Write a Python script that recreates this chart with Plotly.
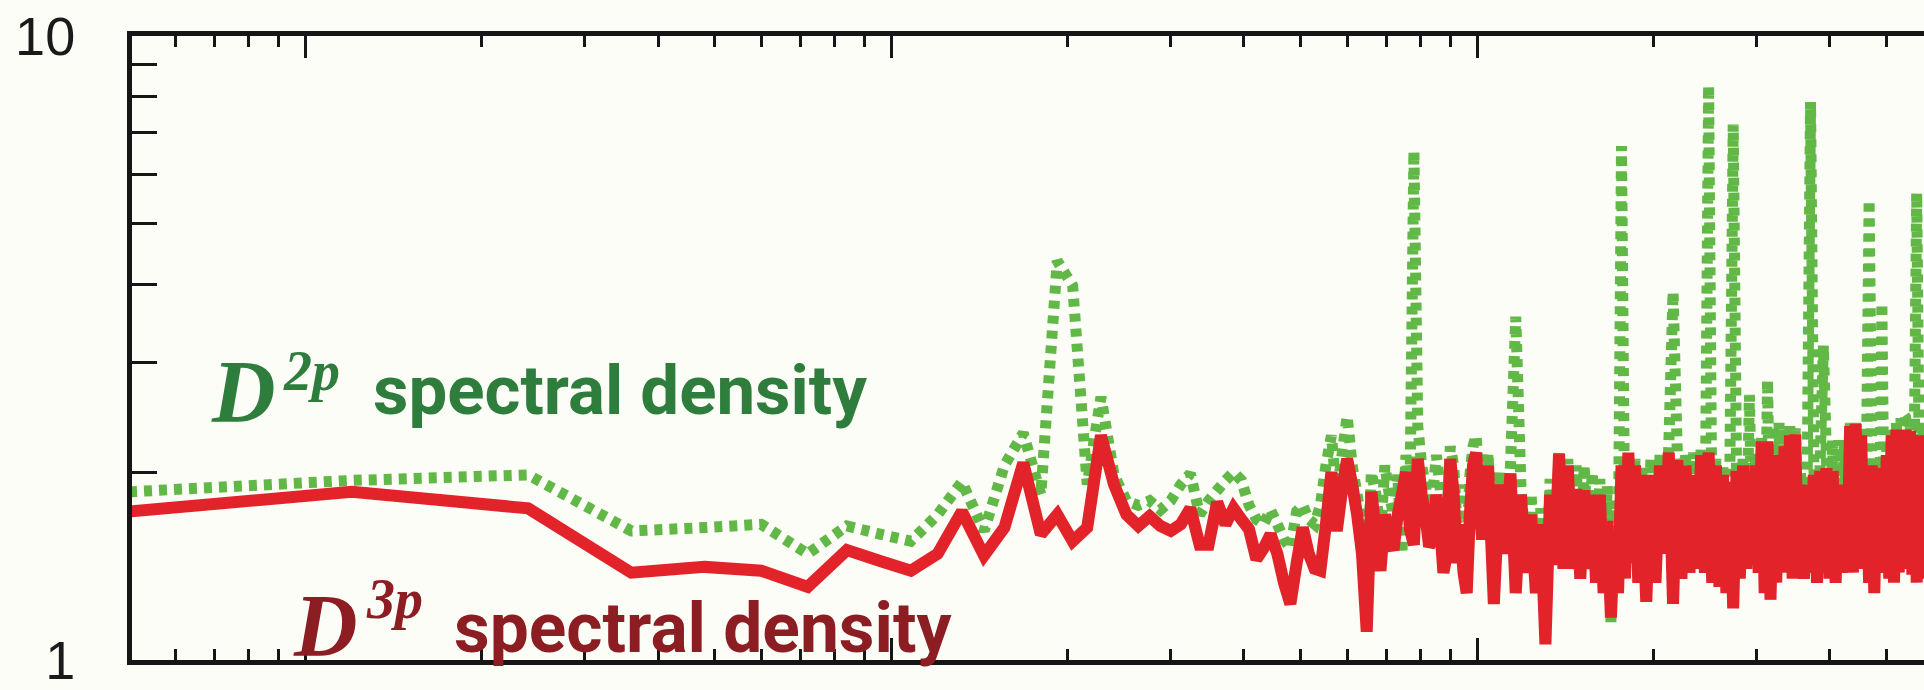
import plotly.graph_objects as go

# ---------------- data ----------------
# frequencies of the spectral samples
freq_low = [5, 12, 24, 36, 48, 60, 72, 84, 96, 108, 120, 132, 144, 156, 168, 180,
            192, 204, 216, 228]
freq_mid = [240, 252, 264, 276, 288, 300, 312, 324, 336, 348, 360, 372, 384, 396,
            408, 420, 432, 444, 456, 468, 480, 492, 504, 516, 528, 540, 552, 564,
            576, 588, 600, 612, 624, 636, 648, 660, 672, 684, 696, 708, 720, 732,
            744, 756, 768, 780, 792, 804, 816, 828, 840, 852, 864, 876, 888, 900,
            912, 924, 936, 948, 960, 972, 984, 996]
freq_high1 = [1020, 1044, 1068, 1092, 1116, 1140, 1164, 1188, 1212, 1236, 1260,
              1284, 1308, 1332, 1356, 1380, 1404, 1428, 1452, 1476, 1500, 1524,
              1548, 1572, 1596, 1620, 1644, 1668, 1692, 1716, 1740, 1764, 1788,
              1812, 1836, 1860, 1884, 1908]
freq_high2 = [1944, 1980, 2016, 2052, 2088, 2124, 2160, 2196, 2232, 2268, 2304,
              2340, 2376, 2412, 2448, 2484, 2520, 2556, 2592, 2628, 2664, 2700,
              2736, 2772, 2808, 2844, 2880, 2916, 2952, 2988, 3024, 3060, 3096,
              3132, 3168, 3204, 3240, 3276, 3312, 3348, 3384, 3420, 3456, 3492,
              3528, 3564]
freq_high3 = [3612, 3660, 3708, 3756, 3804, 3852, 3900, 3948, 3996, 4044, 4092,
              4140, 4188, 4236, 4284, 4332, 4380, 4428, 4476, 4524, 4572, 4620,
              4668, 4716, 4764, 4812, 4860, 4908, 4956, 5004, 5052, 5100, 5148,
              5196, 5244, 5292, 5340, 5388, 5436, 5484, 5532, 5580, 5628, 5676,
              5724, 5772, 5820]

# D^2p spectral density (green, dotted)
d2p_low = [1.86, 1.94, 1.98, 1.61, 1.63, 1.65, 1.48, 1.64, 1.59, 1.55, 1.71, 1.93,
           1.61, 2.05, 2.31, 1.84, 4.36, 3.98, 1.91, 2.64]
d2p_mid = [1.98, 1.80, 1.77, 1.80, 1.74, 1.80, 1.91, 1.99, 1.71, 1.80, 1.87, 1.94,
           2.00, 1.94, 1.77, 1.68, 1.65, 1.74, 1.65, 1.56, 1.51, 1.73, 1.77, 1.68,
           1.65, 1.77, 2.05, 2.29, 1.84, 2.13, 2.46, 2.05, 1.84, 1.65, 1.28, 2.00,
           1.84, 1.59, 2.05, 1.84, 1.71, 1.98, 1.48, 2.13, 1.84, 6.54, 2.37, 2.05,
           1.91, 1.71, 1.84, 2.13, 1.91, 1.59, 1.71, 2.20, 2.05, 1.65, 1.91, 1.59,
           1.48, 1.98, 2.20, 2.29]
d2p_high1 = [1.60, 2.15, 1.30, 2.00, 1.55, 2.05, 3.55, 1.90, 1.45, 1.85, 1.35, 1.75,
             1.15, 1.95, 1.50, 2.15, 1.50, 2.10, 1.45, 2.05, 1.45, 2.05, 1.45, 2.00,
             1.40, 1.95, 1.35, 1.90, 1.15, 1.80, 1.35, 6.66, 1.45, 2.15, 1.50, 2.10,
             1.40, 2.05]
d2p_high2 = [1.30, 2.10, 1.40, 2.13, 1.55, 2.20, 3.89, 2.15, 1.45, 2.15, 1.45, 2.15,
             1.45, 2.20, 1.45, 8.33, 1.40, 2.10, 1.40, 2.05, 1.35, 2.00, 7.21, 2.05,
             1.40, 2.10, 1.45, 2.66, 1.45, 2.10, 1.45, 2.30, 1.35, 2.81, 1.25, 2.37,
             1.40, 2.40, 1.45, 2.35, 1.45, 2.37, 1.40, 2.35, 1.45, 2.00]
d2p_high3 = [1.40, 2.00, 7.84, 2.05, 1.40, 2.10, 3.19, 2.10, 1.40, 2.25, 1.40, 2.25,
             1.45, 2.25, 1.45, 2.40, 1.45, 2.40, 1.45, 2.30, 1.50, 2.10, 5.46, 2.15,
             1.35, 2.10, 1.45, 3.73, 1.45, 2.20, 1.40, 2.35, 1.40, 2.40, 1.45, 2.45,
             2.48, 2.45, 1.55, 2.45, 1.45, 2.40, 5.60, 2.40, 1.45, 2.40, 1.40]

# D^3p spectral density (red, solid)
d3p_low = [1.73, 1.86, 1.75, 1.38, 1.41, 1.39, 1.31, 1.50, 1.44, 1.39, 1.48, 1.73,
           1.47, 1.63, 2.07, 1.59, 1.71, 1.55, 1.63, 2.29]
d3p_mid = [1.91, 1.71, 1.64, 1.70, 1.64, 1.61, 1.65, 1.75, 1.53, 1.53, 1.79, 1.65,
           1.75, 1.68, 1.62, 1.45, 1.51, 1.59, 1.48, 1.33, 1.23, 1.43, 1.63, 1.48,
           1.40, 1.39, 1.65, 2.00, 1.61, 1.87, 2.10, 1.91, 1.71, 1.48, 1.11, 1.86,
           1.59, 1.39, 1.71, 1.56, 1.50, 1.71, 1.84, 2.00, 1.62, 1.53, 2.10, 1.84,
           1.71, 1.52, 1.56, 1.84, 1.65, 1.38, 1.48, 2.10, 1.84, 1.43, 1.65, 1.38,
           1.28, 1.71, 2.05, 2.15]
d3p_high1 = [1.56, 2.05, 1.23, 1.91, 1.48, 1.99, 1.28, 1.84, 1.38, 1.71, 1.28, 1.65,
             1.06, 1.84, 1.42, 2.14, 1.40, 2.05, 1.40, 1.88, 1.35, 1.87, 1.40, 1.84,
             1.33, 1.84, 1.28, 1.67, 1.17, 1.61, 1.28, 2.05, 1.35, 2.15, 1.43, 2.05,
             1.33, 1.98]
d3p_high2 = [1.24, 1.98, 1.33, 2.05, 1.48, 2.15, 1.23, 2.09, 1.35, 2.05, 1.38, 1.98,
             1.40, 2.13, 1.38, 2.15, 1.33, 2.05, 1.31, 1.98, 1.28, 1.93, 1.21, 2.01,
             1.35, 2.05, 1.40, 1.98, 1.42, 2.05, 1.38, 2.24, 1.28, 2.24, 1.25, 2.00,
             1.33, 2.13, 1.38, 2.20, 1.40, 2.29, 1.35, 2.30, 1.40, 1.88]
d3p_high3 = [1.35, 1.91, 1.38, 1.98, 1.33, 2.01, 1.40, 2.03, 1.35, 2.01, 1.33, 1.91,
             1.38, 1.82, 1.40, 2.37, 1.38, 2.39, 1.40, 2.29, 1.43, 1.91, 1.33, 2.05,
             1.28, 1.98, 1.38, 2.03, 1.40, 2.13, 1.35, 2.29, 1.33, 2.34, 1.38, 2.29,
             1.40, 2.34, 1.51, 2.33, 1.37, 2.20, 1.33, 2.29, 1.38, 2.24, 1.35]

freq = freq_low + freq_mid + freq_high1 + freq_high2 + freq_high3
d2p = d2p_low + d2p_mid + d2p_high1 + d2p_high2 + d2p_high3
d3p = d3p_low + d3p_mid + d3p_high1 + d3p_high2 + d3p_high3

# axis ticks
x_major_ticks = [10, 100, 1000]
x_minor_ticks = [6, 7, 8, 9, 20, 30, 40, 50, 60, 70, 80, 90,
                 200, 300, 400, 500, 600, 700, 800, 900, 2000, 3000, 4000, 5000]
y_ticks = [1, 2, 3, 4, 5, 6, 7, 8, 9, 10]
y_ticktext = ["1", "", "", "", "", "", "", "", "", "10"]
y_minor_ticks = [2, 3, 4, 5, 6, 7, 8, 9]

# ---------------- styling ----------------
W, H = 1924, 690
L, R, T, B = 131.5, 0, 35.5, 24.5
BG = "#fdfdf8"
FRAME = "#161616"
GREEN_LINE = "#62b846"
RED_LINE = "#e2232a"
GREEN_TEXT = "#2e7d3c"
RED_TEXT = "#8c1e23"


def px_x(px):
    return (px - L) / (W - L - R)


def px_y(py):
    return (H - B - py) / (H - T - B)


fig = go.Figure()
fig.add_trace(go.Scatter(
    x=freq, y=d2p, mode="lines",
    line=dict(color=GREEN_LINE, width=11, dash="8px,7px", simplify=False),
    hoverinfo="skip"))
fig.add_trace(go.Scatter(
    x=freq, y=d3p, mode="lines",
    line=dict(color=RED_LINE, width=12, simplify=False),
    hoverinfo="skip"))

serif = "Liberation Serif, Times New Roman, serif"
sans = "Roboto, Liberation Sans, Arial, sans-serif"

annotations = [
    dict(text="<b><i>D</i></b>", x=px_x(209), y=px_y(394),
         font=dict(family=serif, size=88, color=GREEN_TEXT)),
    dict(text="<b><i>2p</i></b>", x=px_x(281), y=px_y(374),
         font=dict(family=serif, size=56, color=GREEN_TEXT)),
    dict(text="<b>spectral density</b>", x=px_x(371), y=px_y(393),
         font=dict(family=sans, size=69, color=GREEN_TEXT)),
    dict(text="<b><i>D</i></b>", x=px_x(291), y=px_y(631),
         font=dict(family=serif, size=88, color=RED_TEXT)),
    dict(text="<b><i>3p</i></b>", x=px_x(364), y=px_y(604),
         font=dict(family=serif, size=56, color=RED_TEXT)),
    dict(text="<b>spectral density</b>", x=px_x(452), y=px_y(634),
         font=dict(family=sans, size=69.5, color=RED_TEXT)),
]
for a in annotations:
    a.update(xref="paper", yref="paper", xanchor="left", yanchor="middle",
             showarrow=False)

fig.update_layout(
    width=W, height=H,
    margin=dict(l=L, r=R, t=T, b=B, pad=0),
    paper_bgcolor=BG, plot_bgcolor=BG,
    showlegend=False,
    annotations=annotations,
    xaxis=dict(
        type="log", range=[0.704, 3.7628],
        showline=True, linewidth=5, linecolor=FRAME, mirror="ticks",
        ticks="inside", tickvals=x_major_ticks, ticklen=22, tickwidth=3,
        tickcolor=FRAME, showticklabels=False, showgrid=False, zeroline=False,
        minor=dict(tickvals=x_minor_ticks, ticks="inside", ticklen=11,
                   tickwidth=3, tickcolor=FRAME, showgrid=False),
    ),
    yaxis=dict(
        type="log", range=[0, 1],
        showline=True, linewidth=5, linecolor=FRAME, mirror=False,
        ticks="inside", tickvals=y_ticks, ticktext=y_ticktext, ticklen=25,
        tickwidth=3, tickcolor=FRAME,
        tickfont=dict(family="Liberation Sans, Arial, sans-serif", size=54,
                      color="#1a1a1a"),
        ticklabelstandoff=41, ticklabeloverflow="allow",
        showgrid=False, zeroline=False,
    ),
    yaxis2=dict(
        type="log", range=[0, 1], overlaying="y", side="right",
        anchor="x",
        ticks="inside", tickvals=y_minor_ticks, ticklen=15, tickwidth=3,
        tickcolor=FRAME, showticklabels=False, showline=False,
        showgrid=False, zeroline=False,
    ),
)

fig.write_html("out.html")
